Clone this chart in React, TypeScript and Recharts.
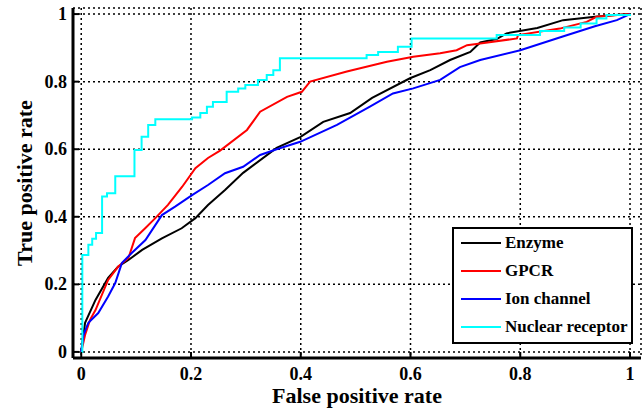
import React from "react";
import { LineChart, Line, XAxis, YAxis, CartesianGrid, Legend } from "recharts";

// ROC points (false positive rate / true positive rate)
const enzymeFpr = [0, 0.007, 0.026, 0.049, 0.067, 0.086, 0.111, 0.147, 0.183, 0.208, 0.231, 0.262, 0.295, 0.356, 0.399, 0.441, 0.49, 0.53, 0.599, 0.636, 0.672, 0.709, 0.727, 0.757, 0.775, 0.831, 0.878, 0.936, 0.973, 1];
const enzymeTpr = [0, 0.086, 0.154, 0.219, 0.252, 0.272, 0.302, 0.336, 0.366, 0.396, 0.435, 0.479, 0.53, 0.604, 0.636, 0.681, 0.707, 0.752, 0.81, 0.834, 0.864, 0.888, 0.916, 0.926, 0.943, 0.959, 0.982, 0.992, 0.997, 1];

const gpcrFpr = [0, 0.007, 0.016, 0.026, 0.049, 0.067, 0.086, 0.098, 0.117, 0.135, 0.158, 0.184, 0.208, 0.231, 0.253, 0.302, 0.326, 0.375, 0.402, 0.417, 0.484, 0.557, 0.605, 0.654, 0.684, 0.703, 0.727, 0.794, 0.796, 0.872, 0.921, 0.939, 1];
const gpcrTpr = [0, 0.05, 0.095, 0.124, 0.213, 0.252, 0.278, 0.337, 0.367, 0.396, 0.435, 0.489, 0.544, 0.574, 0.596, 0.657, 0.711, 0.755, 0.77, 0.8, 0.83, 0.859, 0.874, 0.884, 0.893, 0.908, 0.913, 0.928, 0.938, 0.957, 0.977, 0.992, 1];

const ionFpr = [0, 0.004, 0.013, 0.031, 0.049, 0.062, 0.074, 0.092, 0.117, 0.147, 0.171, 0.202, 0.231, 0.262, 0.295, 0.326, 0.356, 0.399, 0.466, 0.526, 0.568, 0.605, 0.654, 0.69, 0.727, 0.8, 0.876, 0.936, 0.976, 1];
const ionTpr = [0, 0.05, 0.086, 0.115, 0.164, 0.204, 0.263, 0.293, 0.331, 0.405, 0.43, 0.464, 0.494, 0.529, 0.548, 0.583, 0.6, 0.622, 0.672, 0.726, 0.765, 0.78, 0.805, 0.843, 0.864, 0.893, 0.933, 0.964, 0.982, 1];

const nuclearFpr = [0, 0.002, 0.013, 0.02, 0.027, 0.038, 0.047, 0.062, 0.097, 0.11, 0.122, 0.135, 0.202, 0.217, 0.229, 0.24, 0.265, 0.286, 0.299, 0.322, 0.338, 0.35, 0.362, 0.52, 0.541, 0.577, 0.602, 0.757, 0.836, 0.88, 0.91, 0.939, 0.957, 1];
const nuclearTpr = [0, 0.287, 0.317, 0.335, 0.352, 0.46, 0.47, 0.52, 0.598, 0.637, 0.672, 0.689, 0.694, 0.707, 0.726, 0.74, 0.77, 0.78, 0.79, 0.805, 0.82, 0.834, 0.869, 0.879, 0.888, 0.903, 0.928, 0.938, 0.95, 0.96, 0.972, 0.987, 0.997, 1];

const xTicks = [0, 0.2, 0.4, 0.6, 0.8, 1];
const yTicks = [0, 0.2, 0.4, 0.6, 0.8, 1];

const seriesNames = ["Enzyme", "GPCR", "Ion channel", "Nuclear receptor"];
const seriesColors = ["#000000", "#ff0000", "#0000ff", "#00ffff"];

const toPoints = (fpr: number[], tpr: number[]) =>
  fpr.map((x, i) => ({ x, y: tpr[i] }));

const enzymeData = toPoints(enzymeFpr, enzymeTpr);
const gpcrData = toPoints(gpcrFpr, gpcrTpr);
const ionData = toPoints(ionFpr, ionTpr);
const nuclearData = toPoints(nuclearFpr, nuclearTpr);

const font = "Liberation Serif, Times New Roman, serif";
const frame = { stroke: "#000", strokeWidth: 3 };
const tickMark = { stroke: "#000", strokeWidth: 2 };

const XTick = (props: any) => (
  <text x={props.x} y={props.y} dy={12} textAnchor="middle" fill="#000" fontSize={18} fontWeight="bold" fontFamily={font}>
    {props.payload.value}
  </text>
);

const YTick = (props: any) => (
  <text x={props.x} y={props.y} dy={6} textAnchor="end" fill="#000" fontSize={18} fontWeight="bold" fontFamily={font}>
    {props.payload.value}
  </text>
);

const YTitle = (props: any) => {
  const vb = props.viewBox || { x: 0, y: 8, width: 73, height: 350 };
  const x = vb.x + 32;
  const y = vb.y + vb.height / 2;
  return (
    <text
      x={x}
      y={y}
      transform={`rotate(-90 ${x} ${y})`}
      textAnchor="middle"
      fill="#000"
      fontSize={22}
      fontWeight="bold"
      fontFamily={font}
    >
      True positive rate
    </text>
  );
};

const LegendBox = () => (
  <div
    style={{
      boxSizing: "border-box",
      width: 181,
      height: 117,
      border: "2.5px solid #000",
      background: "#fff",
      paddingLeft: 7,
      fontFamily: font,
      fontWeight: "bold",
      fontSize: 17,
      color: "#000",
      whiteSpace: "nowrap",
    }}
  >
    {seriesNames.map((name, i) => (
      <div key={name} style={{ display: "flex", alignItems: "center", height: 28 }}>
        <span style={{ width: 40, height: 2, background: seriesColors[i], marginRight: 4, flex: "none" }} />
        <span>{name}</span>
      </div>
    ))}
  </div>
);

export default function App() {
  return (
    <div style={{ position: "absolute", left: 0, top: 0, width: 643, height: 411, background: "#fff" }}>
      <LineChart width={643} height={411} margin={{ top: 8, right: 2, left: 0, bottom: 0 }}>
        <CartesianGrid stroke="#000" strokeWidth={1.5} strokeDasharray="2 3" />
        <XAxis
          type="number"
          dataKey="x"
          domain={[-0.015, 1.02]}
          allowDataOverflow
          ticks={xTicks}
          height={53}
          tickSize={-6}
          tickMargin={16}
          axisLine={frame}
          tickLine={tickMark}
          tick={<XTick />}
          label={{
            value: "False positive rate",
            position: "insideBottom",
            offset: 8,
            fill: "#000",
            fontSize: 22,
            fontWeight: "bold",
            fontFamily: font,
          }}
        />
        <XAxis
          xAxisId="top"
          orientation="top"
          type="number"
          domain={[-0.015, 1.02]}
          allowDataOverflow
          ticks={xTicks}
          height={0}
          tickSize={-6}
          axisLine={frame}
          tickLine={tickMark}
          tick={false}
        />
        <YAxis
          type="number"
          domain={[-0.018, 1.018]}
          allowDataOverflow
          ticks={yTicks}
          width={73}
          tickSize={-6}
          tickMargin={12}
          axisLine={frame}
          tickLine={tickMark}
          tick={<YTick />}
          label={YTitle}
        />
        <YAxis
          yAxisId="right"
          orientation="right"
          type="number"
          domain={[-0.018, 1.018]}
          allowDataOverflow
          ticks={yTicks}
          width={0}
          tickSize={-6}
          axisLine={frame}
          tickLine={tickMark}
          tick={false}
        />
        <Line data={enzymeData} dataKey="y" name={seriesNames[0]} stroke={seriesColors[0]} strokeWidth={2} dot={false} activeDot={false} isAnimationActive={false} />
        <Line data={gpcrData} dataKey="y" name={seriesNames[1]} stroke={seriesColors[1]} strokeWidth={2} dot={false} activeDot={false} isAnimationActive={false} />
        <Line data={ionData} dataKey="y" name={seriesNames[2]} stroke={seriesColors[2]} strokeWidth={2} dot={false} activeDot={false} isAnimationActive={false} />
        <Line type="stepAfter" data={nuclearData} dataKey="y" name={seriesNames[3]} stroke={seriesColors[3]} strokeWidth={2} dot={false} activeDot={false} isAnimationActive={false} />
        <Legend
          layout="vertical"
          align="center"
          verticalAlign="middle"
          content={<LegendBox />}
          wrapperStyle={{ left: 452, top: 227, width: 181, height: 117 }}
        />
      </LineChart>
    </div>
  );
}
